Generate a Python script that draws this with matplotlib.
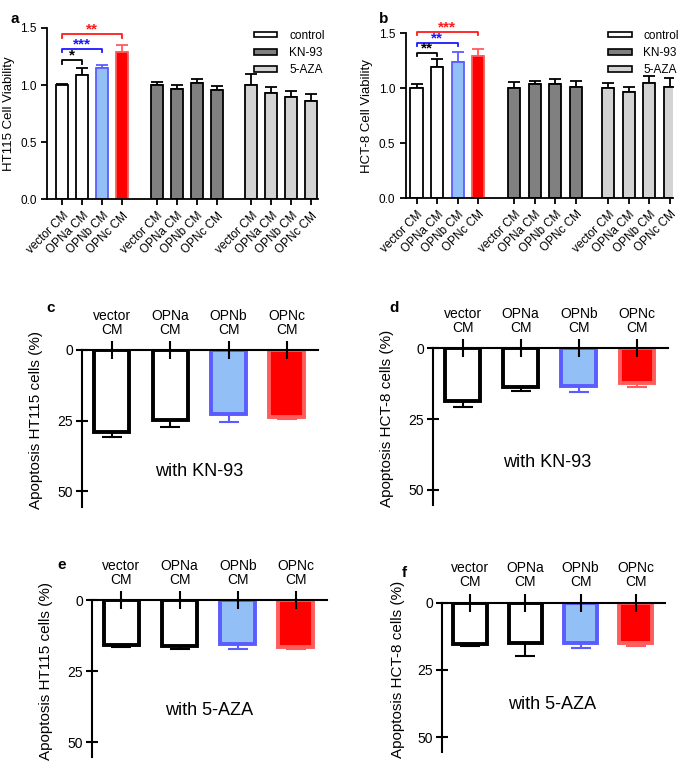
import numpy as np
import matplotlib
matplotlib.use('Agg')
import matplotlib.pyplot as plt
from matplotlib.patches import Patch

plt.rcParams['font.family'] = ['Liberation Sans', 'DejaVu Sans']

# ---- data ----
cm_labels = ['vector CM', 'OPNa CM', 'OPNb CM', 'OPNc CM']
treat = ['control', 'KN-93', '5-AZA']

# viability (panels a, b): rows = treatment, cols = CM
ht115_via = [[1.00, 1.09, 1.15, 1.29], [1.00, 0.97, 1.02, 0.96], [1.00, 0.93, 0.90, 0.86]]
ht115_via_err = [[0.01, 0.06, 0.03, 0.06], [0.03, 0.03, 0.03, 0.03], [0.10, 0.05, 0.05, 0.06]]
hct8_via = [[1.00, 1.19, 1.24, 1.29], [1.00, 1.035, 1.04, 1.01], [1.00, 0.963, 1.048, 1.01]]
hct8_via_err = [[0.04, 0.08, 0.09, 0.07], [0.06, 0.03, 0.045, 0.056], [0.045, 0.047, 0.062, 0.08]]

# significance brackets: (end index, height, stars)
ht115_sig = [(1, 1.216, '*'), (2, 1.316, '***'), (3, 1.444, '**')]
hct8_sig = [(1, 1.32, '**'), (2, 1.41, '**'), (3, 1.51, '***')]

# apoptosis (panels c-f)
apo_labels = ['vector\nCM', 'OPNa\nCM', 'OPNb\nCM', 'OPNc\nCM']
apo_c = [29.0, 24.8, 22.7, 23.6]; apo_c_err = [1.7, 2.5, 2.8, 0.7]
apo_d = [18.5, 13.6, 13.4, 12.4]; apo_d_err = [2.3, 1.5, 2.2, 1.2]
apo_e = [15.8, 16.1, 15.6, 16.4]; apo_e_err = [0.6, 1.0, 1.5, 0.7]
apo_f = [15.5, 14.85, 14.85, 15.1]; apo_f_err = [0.6, 4.95, 1.85, 0.9]

BLUE_F, BLUE_E = '#92bff6', '#5a5cff'
RED_F, RED_E = '#ff0000', '#ff5c5c'
fills = [['white', 'white', BLUE_F, RED_F], ['#808080'] * 4, ['#d3d3d3'] * 4]
edges = [['black', 'black', BLUE_E, RED_E], ['black'] * 4, ['black'] * 4]
sig_cols = ['black', '#1a1aff', '#ff1a1a']

fig = plt.figure(figsize=(6.85, 7.69), dpi=100)

def viability(rect, vals, errs, sig, ylabel, xpos, xlim, letter, lx, ly_leg):
    ax = fig.add_axes(rect)
    xp = np.array(xpos)
    for g in range(3):
        for i in range(4):
            x = xp[g * 4 + i]
            ax.bar(x, vals[g][i], 0.6, color=fills[g][i], edgecolor=edges[g][i], lw=1.3, zorder=2)
            ec = edges[g][i] if g == 0 else 'black'
            ax.errorbar(x, vals[g][i], yerr=[[0], [errs[g][i]]], fmt='none', ecolor=ec,
                        elinewidth=1.3, capsize=4, capthick=1.3, zorder=1)
    for (j, h, st), c in zip(sig, sig_cols):
        ax.plot([xp[0], xp[0], xp[j], xp[j]], [h - 0.03, h, h, h - 0.03], color=c, lw=1.3, clip_on=False)
        ax.text((xp[0] + xp[j]) / 2, h - 0.02, st, color=c, ha='center', va='bottom', fontsize=11,
                fontweight='bold', clip_on=False)
    ax.set_xlim(*xlim); ax.set_ylim(0, 1.5)
    ax.set_yticks([0, 0.5, 1.0, 1.5]); ax.set_yticklabels(['0.0', '0.5', '1.0', '1.5'])
    ax.set_xticks(xp); ax.set_xticklabels(cm_labels * 3, rotation=45, ha='right', rotation_mode='anchor')
    ax.tick_params(labelsize=8.5, width=1.3, length=4)
    for s in ['top', 'right']: ax.spines[s].set_visible(False)
    for s in ['left', 'bottom']: ax.spines[s].set_linewidth(1.3)
    ax.set_ylabel(ylabel, fontsize=9.5)
    handles = [Patch(facecolor=f, edgecolor='black', lw=1.2) for f in ['white', '#808080', '#d3d3d3']]
    fig.legend(handles, treat, loc='upper left', bbox_to_anchor=ly_leg, frameon=False, fontsize=8.5,
               handlelength=2.0, handleheight=0.35, labelspacing=0.45, handletextpad=1.0)
    fig.text(lx, 0.985, letter, fontsize=11, fontweight='bold', va='top')
    return ax

pos_a = [0, 1, 2, 3, 4.7, 5.7, 6.7, 7.7, 9.4, 10.4, 11.4, 12.4]
pos_b = [0, 1, 2, 3, 4.75, 5.75, 6.75, 7.75, 9.33, 10.33, 11.33, 12.33]
viability([0.0686, 0.7406, 0.396, 0.223], ht115_via, ht115_via_err, ht115_sig, 'HT115 Cell Viability',
          pos_a, (-0.75, 12.74), 'a', 0.015, (0.355, 0.975))
viability([0.592, 0.7425, 0.391, 0.2142], hct8_via, hct8_via_err, hct8_sig, 'HCT-8 Cell Viability',
          pos_b, (-0.54, 12.5), 'b', 0.553, (0.872, 0.975))

def apoptosis(rect, vals, errs, ylabel, note, note_xy, letter, lxy):
    ax = fig.add_axes(rect)
    x = np.arange(4)
    fl = ['white', 'white', BLUE_F, RED_F]; ed = ['black', 'black', BLUE_E, RED_E]
    for i in range(4):
        ax.bar(x[i], vals[i], 0.6, color=fl[i], edgecolor=ed[i], lw=2.8, zorder=1)
        ax.errorbar(x[i], vals[i], yerr=[[0], [errs[i]]], fmt='none', ecolor=ed[i],
                    elinewidth=1.5, capsize=7, capthick=1.5, zorder=0.9)
    ax.set_ylim(55.4, 0)
    ax.set_xlim(-0.51, 3.53)
    ax.set_yticks([0, 25, 50])
    ax.xaxis.tick_top()
    ax.set_xticks(x); ax.set_xticklabels(apo_labels, fontsize=10, linespacing=1.0)
    ax.tick_params(axis='x', direction='inout', length=13, width=1.5, pad=3)
    ax.tick_params(axis='y', direction='inout', length=9, width=1.5, labelsize=10, pad=2)
    for s in ['bottom', 'right']: ax.spines[s].set_visible(False)
    for s in ['top', 'left']: ax.spines[s].set_linewidth(1.5)
    ax.set_ylabel(ylabel, fontsize=11)
    ax.yaxis.set_label_coords(-0.165, 0.55)
    ax.text(note_xy[0], note_xy[1], note, fontsize=13, ha='center', va='center')
    fig.text(lxy[0], lxy[1], letter, fontsize=11, fontweight='bold', va='center')
    return ax

apoptosis([0.1197, 0.3411, 0.3443, 0.2038], apo_c, apo_c_err, 'Apoptosis HT115 cells (%)',
          'with KN-93', (1.5, 43), 'c', (0.068, 0.6))
apoptosis([0.632, 0.3433, 0.343, 0.2037], apo_d, apo_d_err, 'Apoptosis HCT-8 cells (%)',
          'with KN-93', (1.45, 40.4), 'd', (0.568, 0.6))
apoptosis([0.134, 0.0152, 0.343, 0.2042], apo_e, apo_e_err, 'Apoptosis HT115 cells (%)',
          'with 5-AZA', (1.5, 39), 'e', (0.084, 0.265))
apoptosis([0.645, 0.0225, 0.326, 0.1938], apo_f, apo_f_err, 'Apoptosis HCT-8 cells (%)',
          'with 5-AZA', (1.48, 38), 'f', (0.587, 0.255))

fig.savefig('out.png', dpi=100)
